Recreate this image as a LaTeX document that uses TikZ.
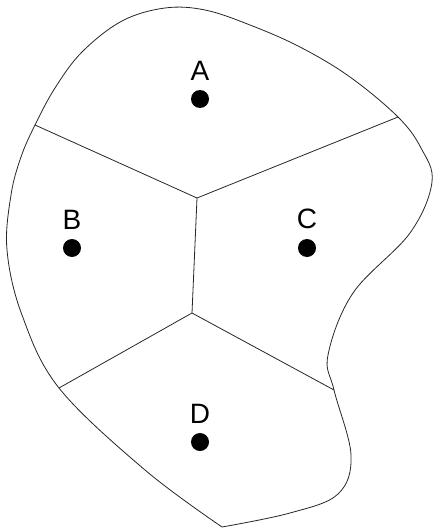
\documentclass[tikz,border=0pt]{standalone}
\usepackage{fontspec}
\setmainfont{Liberation Sans}
\usetikzlibrary{positioning}

\begin{document}
\begin{tikzpicture}[x=0.75pt,y=-0.75pt,
  edge/.style={draw=black!85,line width=0.6pt},
  site/.style={circle,fill=black,minimum size=13.5pt,inner sep=0pt},
  sitelabel/.style={inner sep=0pt,font=\fontsize{21}{24}\selectfont},
  node distance=7pt]
\useasboundingbox (0,0) rectangle (433,531);
% region outline
\draw[edge] plot[smooth,tension=0.6] coordinates {
  (222,527) (145,470) (59,388) (22,315) (7,250) (11,195) (21,157) (35,125)
  (55,88) (82,52) (122,21) (165,8) (205,10) (250,25) (300,47) (350,77)
  (398,117) (421,148) (432,182) (410,233) (353,293) (328,355) (334,390)
  (351,455) (338,494) (290,513) (222,527)};
% cell corners
\coordinate (lAB) at (35,125);
\coordinate (rAC) at (398,117);
\coordinate (mTop) at (197,198);
\coordinate (mBot) at (192,313);
\coordinate (lBD) at (59,388);
\coordinate (rCD) at (334,390);
\draw[edge] (lAB) -- (mTop) -- (rAC);
\draw[edge] (mTop) -- (mBot);
\draw[edge] (lBD) -- (mBot) -- (rCD);
% sites
\node[site] (siteA) at (200,99) {};
\node[site] (siteB) at (72,248) {};
\node[site] (siteC) at (307,248) {};
\node[site] (siteD) at (200,442) {};
\node[sitelabel,above=of siteA] (labA) {A};
\node[sitelabel,above=of siteB] (labB) {B};
\node[sitelabel,above=of siteC] (labC) {C};
\node[sitelabel,above=of siteD] (labD) {D};
\end{tikzpicture}
\end{document}
